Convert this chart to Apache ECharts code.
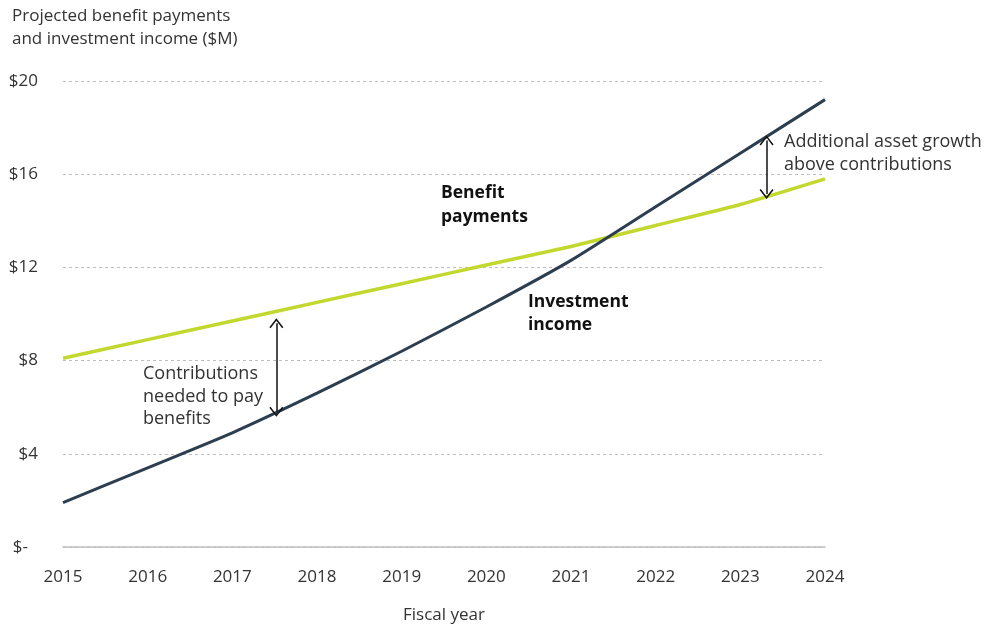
<!DOCTYPE html>
<html><head><meta charset="utf-8">
<script src="https://cdn.jsdelivr.net/npm/echarts@6/dist/echarts.min.js"></script>
<style>html,body{margin:0;padding:0;background:#fff}#c{width:985px;height:629px}</style>
</head><body><div id="c"></div>
<script>
const years = [2015, 2016, 2017, 2018, 2019, 2020, 2021, 2022, 2023, 2024];
const benefitPayments = [8.1, 8.9, 9.7, 10.5, 11.3, 12.1, 12.9, 13.8, 14.7, 15.8];
const investmentIncome = [1.9, 3.4, 4.9, 6.6, 8.4, 10.3, 12.3, 14.6, 16.9, 19.2];
const yTicks = [0, 4, 8, 12, 16, 20];
const contribArrow = [[2017.52, 9.6], [2017.52, 5.8]];
const growthArrow = [[2023.31, 17.45], [2023.31, 15.15]];

const FONT = '"Open Sans", "Noto Sans", sans-serif';
const TXT = '#333';
const chevron = 'path://M0,0 L7,9 L5.8,10 L0,2.4 L-5.8,10 L-7,9 Z';

function pairs(vals){ return years.map((y,i)=>[y, vals[i]]); }
function arrowLine(pts){
  return {
    silent: true, animation: false,
    symbol: [chevron, chevron], symbolSize: [14, 10],
    label: {show: false},
    lineStyle: {color: '#111', width: 1.5, type: 'solid'},
    emphasis: {disabled: true},
    data: [[{coord: pts[0]}, {coord: pts[1]}]]
  };
}

const chart = echarts.init(document.getElementById('c'), null, {renderer: 'canvas'});
chart.setOption({
  animation: false,
  textStyle: {fontFamily: FONT},
  grid: {left: 63, right: 160, top: 81, bottom: 75, containLabel: false},
  xAxis: {
    type: 'value', min: 2015, max: 2024, interval: 1,
    axisLine: {show: true, lineStyle: {color: '#bfbfbf', width: 1.5}},
    axisTick: {show: false},
    splitLine: {show: false},
    axisLabel: {color: TXT, fontSize: 17, fontFamily: FONT, margin: 22, formatter: v => String(v)},
    name: 'Fiscal year', nameLocation: 'middle', nameGap: 60,
    nameTextStyle: {color: TXT, fontSize: 17, fontFamily: FONT}
  },
  yAxis: {
    type: 'value', min: 0, max: 20, interval: 4,
    axisLine: {show: false}, axisTick: {show: false},
    splitLine: {show: true, lineStyle: {color: '#bdbdbd', type: [3, 3], width: 1}},
    axisLabel: {color: TXT, fontSize: 17, fontFamily: FONT, margin: 25,
      formatter: v => yTicks.includes(v) ? (v === 0 ? '{z|$-}' : '$' + v) : '',
      rich: {z: {color: TXT, fontSize: 17, fontFamily: FONT, padding: [0, 10, 0, 0]}}}
  },
  graphic: [
    {type: 'text', left: 12, top: 5, style: {text: 'Projected benefit payments\nand investment income ($M)', fill: TXT, font: '17px ' + FONT, lineHeight: 23}},
    {type: 'text', left: 441, top: 181, style: {text: 'Benefit\npayments', fill: '#111', font: 'bold 17.5px ' + FONT, lineHeight: 24}},
    {type: 'text', left: 528, top: 291, style: {text: 'Investment\nincome', fill: '#111', font: 'bold 17.5px ' + FONT, lineHeight: 23}},
    {type: 'text', left: 143, top: 363, style: {text: 'Contributions\nneeded to pay\nbenefits', fill: TXT, font: '18px ' + FONT, lineHeight: 22.5}},
    {type: 'text', left: 784, top: 130, style: {text: 'Additional asset growth\nabove contributions', fill: TXT, font: '18px ' + FONT, lineHeight: 23}}
  ],
  series: [
    {
      name: 'Benefit payments', type: 'line', data: pairs(benefitPayments),
      showSymbol: false, smooth: 0.2,
      lineStyle: {color: '#c3d82e', width: 3.5}, itemStyle: {color: '#c3d82e'},
      markLine: arrowLine(growthArrow)
    },
    {
      name: 'Investment income', type: 'line', data: pairs(investmentIncome),
      showSymbol: false, smooth: 0.2,
      lineStyle: {color: '#2c3e50', width: 3}, itemStyle: {color: '#2c3e50'},
      markLine: arrowLine(contribArrow)
    }
  ]
});
</script></body></html>
